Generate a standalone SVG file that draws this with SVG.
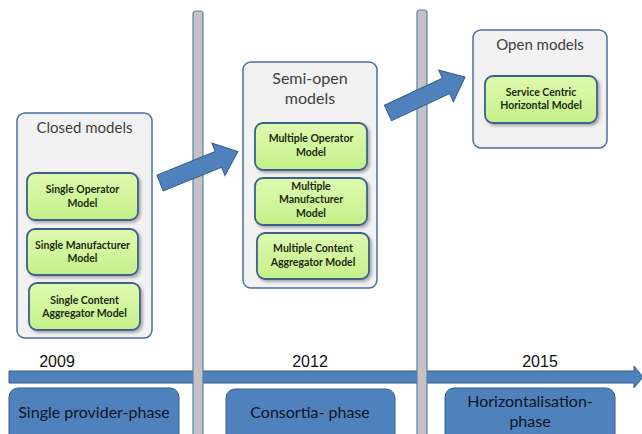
<svg xmlns="http://www.w3.org/2000/svg" width="642" height="434" viewBox="0 0 642 434">
<defs>
<linearGradient id="g" x1="0" y1="0" x2="0" y2="1">
<stop offset="0" stop-color="#dffab0"/>
<stop offset="1" stop-color="#c4f089"/>
</linearGradient>
<filter id="sh" x="-10%" y="-10%" width="130%" height="140%">
<feDropShadow dx="2" dy="2" stdDeviation="1.5" flood-color="#000" flood-opacity="0.3"/>
</filter>
<style>
.bar{fill:#c3c3c3;stroke:#5b7fae;stroke-width:1.2}
.cont{fill:#f2f2f2;stroke:#4d6f9c;stroke-width:1.5}
.ttl{font-family:Lato,"Liberation Sans",sans-serif;font-size:15px;fill:#404040;text-anchor:middle}
.mdl{fill:url(#g);stroke:#3d5f8c;stroke-width:1.8;filter:url(#sh)}
.mt{font-family:Lato,"Liberation Sans",sans-serif;font-weight:bold;font-size:10.5px;fill:#1b2a10;text-anchor:middle}
.blue{fill:#4f81bd;stroke:#385d8a;stroke-width:1}
.yr{font-family:"Liberation Sans",Arial,sans-serif;font-size:16px;fill:#111;text-anchor:middle}
.ph{font-family:Lato,"Liberation Sans",sans-serif;font-size:16px;fill:#0d1424;text-anchor:middle}
</style>
</defs>
<rect width="642" height="434" fill="#fff"/>
<g id="timeline">
<polygon class="blue" points="9,371 634,371 634,366 643,377 634,388 634,383 9,383"/>
</g>
<g id="bar1"><rect class="bar" x="193" y="11" width="10" height="430" rx="3"/></g>
<g id="bar2"><rect class="bar" x="417" y="10" width="10" height="430" rx="3"/></g>
<g id="years">
<text class="yr" x="57" y="367">2009</text>
<text class="yr" x="310" y="367">2012</text>
<text class="yr" x="540" y="367">2015</text>
</g>
<g id="phase1"><rect class="blue" x="9" y="388" width="170" height="56" rx="9"/><text class="ph" x="94" y="418">Single provider-phase</text></g>
<g id="phase2"><rect class="blue" x="226" y="389" width="169" height="55" rx="9"/><text class="ph" x="310" y="418">Consortia- phase</text></g>
<g id="phase3"><rect class="blue" x="445" y="388" width="170" height="56" rx="9"/><text class="ph" x="530" y="407">Horizontalisation-</text><text class="ph" x="530" y="427">phase</text></g>
<g id="closed">
<rect class="cont" x="17" y="113" width="135" height="225" rx="8"/>
<text class="ttl" x="84.5" y="133">Closed models</text>
</g>
<g id="single-operator"><rect class="mdl" x="27" y="173" width="111" height="47" rx="8"/><text class="mt" x="82.5" y="193">Single Operator</text><text class="mt" x="82.5" y="207">Model</text></g>
<g id="single-manufacturer"><rect class="mdl" x="27" y="229" width="111" height="46" rx="8"/><text class="mt" x="82.5" y="249">Single Manufacturer</text><text class="mt" x="82.5" y="262">Model</text></g>
<g id="single-content"><rect class="mdl" x="29" y="283" width="111" height="47" rx="8"/><text class="mt" x="84.5" y="304">Single Content</text><text class="mt" x="84.5" y="317">Aggregator Model</text></g>
<g id="semiopen">
<rect class="cont" x="243" y="62" width="134" height="226" rx="8"/>
<text class="ttl" x="310" y="84" style="font-size:16px">Semi-open</text>
<text class="ttl" x="310" y="104" style="font-size:16px">models</text>
</g>
<g id="multiple-operator"><rect class="mdl" x="255" y="123" width="112" height="47" rx="8"/><text class="mt" x="311" y="142">Multiple Operator</text><text class="mt" x="311" y="156">Model</text></g>
<g id="multiple-manufacturer"><rect class="mdl" x="255" y="178" width="112" height="47" rx="8"/><text class="mt" x="311" y="190">Multiple</text><text class="mt" x="311" y="203">Manufacturer</text><text class="mt" x="311" y="217">Model</text></g>
<g id="multiple-content"><rect class="mdl" x="257" y="233" width="112" height="46" rx="8"/><text class="mt" x="313" y="252">Multiple Content</text><text class="mt" x="313" y="266">Aggregator Model</text></g>
<g id="open">
<rect class="cont" x="473" y="30" width="134" height="118" rx="8"/>
<text class="ttl" x="540" y="50">Open models</text>
</g>
<g id="service-centric"><rect class="mdl" x="485" y="76" width="112" height="47" rx="8"/><text class="mt" x="541" y="96">Service Centric</text><text class="mt" x="541" y="109">Horizontal Model</text></g>
<g id="connectors">
<polygon class="blue" transform="translate(160,183) rotate(-22)" points="0,-8.5 63,-8.5 63,-17.5 84,0 63,17.5 63,8.5 0,8.5"/>
<polygon class="blue" transform="translate(388,113) rotate(-25)" points="0,-8.5 64,-8.5 64,-17.5 85,0 64,17.5 64,8.5 0,8.5"/>
</g>
</svg>
